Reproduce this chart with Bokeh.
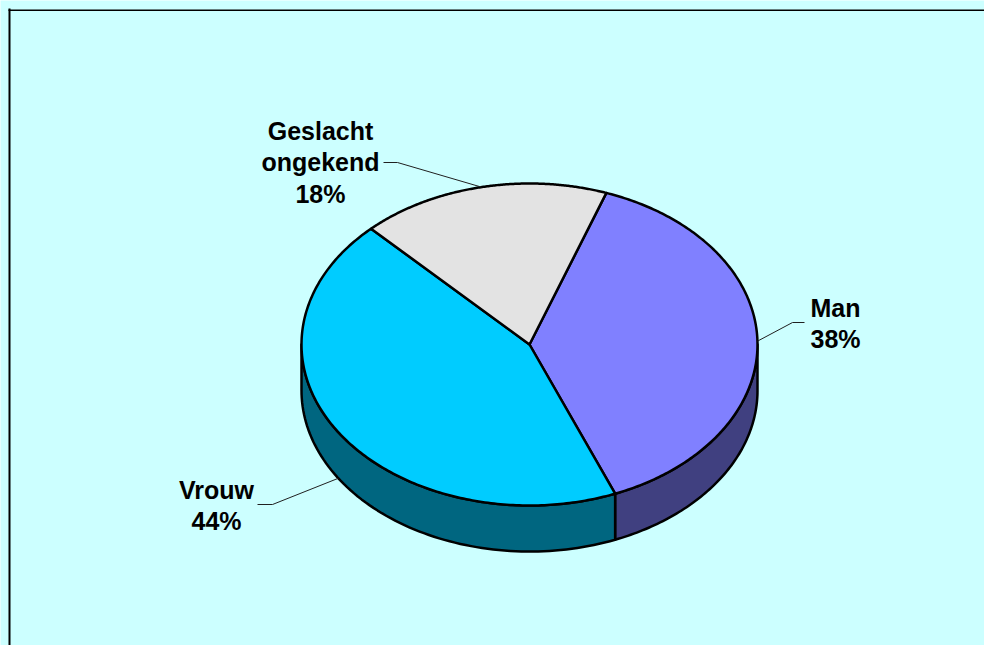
import numpy as np
from bokeh.plotting import figure
from bokeh.models import Range1d, ColumnDataSource
from bokeh.core.properties import value
from bokeh.embed import file_html
from bokeh.resources import INLINE

# ---- data ----
categories = ["Man", "Vrouw", "Geslacht ongekend"]
label_names = ["Man", "Vrouw", "Geslacht\nongekend"]
values = [38.4, 43.9, 17.7]

# ---- styles / layout ----
top_colors = ["#8080FF", "#00CCFF", "#E3E3E3"]
side_colors = ["#404080", "#006680", "#727272"]
CX, CY, RX, RY, DEPTH = 529, 344, 228, 161, 46
START = 19.7  # first slice angle, degrees clockwise from top
label_pos = [(835, 323), (216, 505), (320, 162)]
elbows = [((792, 322), (804, 322)), ((272, 504), (257, 504)), ((397, 162), (383, 162))]
W, H = 984, 645


def pt(theta_deg, dz=0.0):
    t = np.radians(theta_deg)
    return CX + RX * np.sin(t), CY - RY * np.cos(t) + dz


p = figure(width=W, height=H, output_backend="svg", toolbar_location=None,
           x_range=Range1d(0, W), y_range=Range1d(H, 0),
           x_axis_location=None, y_axis_location=None, min_border=0,
           background_fill_color="#CCFFFF", border_fill_color="#CCFFFF",
           outline_line_color=None)
p.grid.visible = False

# frame (top and left edges only; chart continues past the window) - filled bars
p.quad(left=[8, 8], right=[10, W + 20], top=[8, 9], bottom=[H + 20, 10.5],
       fill_color="black", line_color=None)

total = float(sum(values))
angles = [v / total * 360.0 for v in values]
starts = []
a = START
for ang in angles:
    starts.append(a)
    a += ang

# side faces (front half only: 90..270 deg)
side_xs, side_ys, side_cols = [], [], []
for s, ang, col in zip(starts, angles, side_colors):
    e = s + ang
    for off in (0, 360, -360):
        lo = max(s + off, 90)
        hi = min(e + off, 270)
        if hi > lo:
            th = np.linspace(lo, hi, 80)
            tx, ty = pt(th)
            bx, by = pt(th[::-1], DEPTH)
            side_xs.append(list(np.concatenate([tx, bx])))
            side_ys.append(list(np.concatenate([ty, by])))
            side_cols.append(col)
p.patches(side_xs, side_ys, fill_color=side_cols, line_color="black",
          line_width=2.5, line_join="round")

# top faces
top_xs, top_ys = [], []
for s, ang in zip(starts, angles):
    th = np.linspace(s, s + ang, 200)
    ax_, ay_ = pt(th)
    top_xs.append([CX] + list(ax_))
    top_ys.append([CY] + list(ay_))
p.patches(top_xs, top_ys, fill_color=top_colors, line_color="black",
          line_width=2.5, line_join="round")

# leader lines and labels
texts = []
for s, ang, name, v, (e1, e2) in zip(starts, angles, label_names, values, elbows):
    mid = (s + ang / 2.0) % 360
    dz = DEPTH if 90 < mid < 270 else 0
    mx, my = pt(mid, dz)
    p.line([mx, e1[0], e2[0]], [my, e1[1], e2[1]], line_color="#202020", line_width=1)
    texts.append(f"{name}\n{round(v / total * 100):.0f}%")

src = ColumnDataSource(dict(x=[lp[0] for lp in label_pos], y=[lp[1] for lp in label_pos], t=texts))
p.text(x="x", y="y", text="t", source=src, text_align="center", text_baseline="middle",
       text_font=value("Liberation Sans"), text_font_style="bold", text_font_size="25px",
       text_line_height=1.14, text_color="black")

open("out.html", "w").write(file_html(p, INLINE))
